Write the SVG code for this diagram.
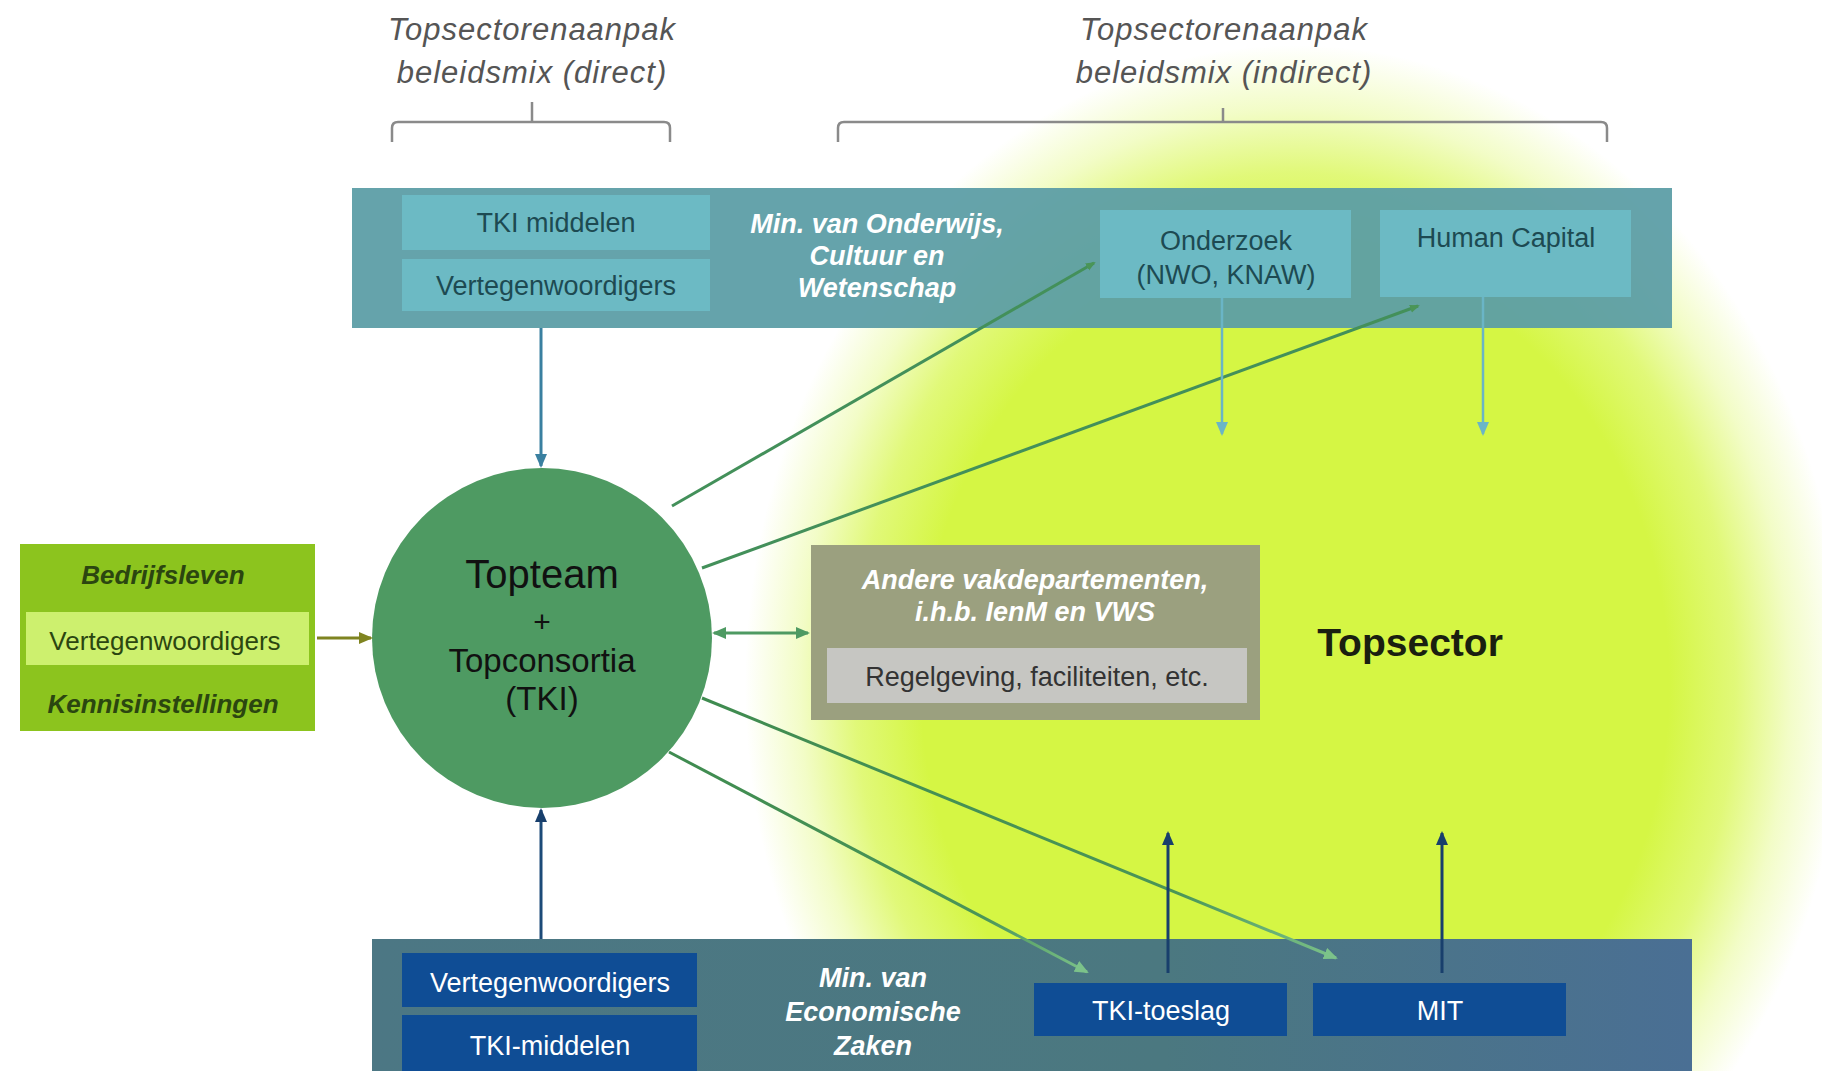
<svg xmlns="http://www.w3.org/2000/svg" width="1822" height="1071" viewBox="0 0 1822 1071">
<defs>
<radialGradient id="glow">
<stop offset="0" stop-color="#d5f644" stop-opacity="1"/>
<stop offset="0.68" stop-color="#d5f644" stop-opacity="1"/>
<stop offset="0.8" stop-color="#d5f644" stop-opacity="0.72"/>
<stop offset="0.9" stop-color="#d5f644" stop-opacity="0.3"/>
<stop offset="1" stop-color="#d5f644" stop-opacity="0"/>
</radialGradient>
<linearGradient id="ezband" x1="0" y1="0" x2="1" y2="0">
<stop offset="0" stop-color="#4c7784"/>
<stop offset="0.6" stop-color="#4b7880"/>
<stop offset="1" stop-color="#4a6f94"/>
</linearGradient>
<linearGradient id="g3" gradientUnits="userSpaceOnUse" x1="702" y1="698" x2="1335" y2="958">
<stop offset="0" stop-color="#3f8b50"/>
<stop offset="0.75" stop-color="#4a9557"/>
<stop offset="1" stop-color="#7cc28a"/>
</linearGradient>
<linearGradient id="g4" gradientUnits="userSpaceOnUse" x1="669" y1="752" x2="1086" y2="972">
<stop offset="0" stop-color="#3f8b50"/>
<stop offset="0.75" stop-color="#4a9557"/>
<stop offset="1" stop-color="#7cc28a"/>
</linearGradient>
<marker id="ahGreen" markerWidth="10" markerHeight="10" refX="8" refY="5" orient="auto" markerUnits="userSpaceOnUse" viewBox="0 0 10 10">
<path d="M0,1 L10,5 L0,9 z" fill="#4a9557"/>
</marker>
<marker id="ahLightGreen" markerWidth="14" markerHeight="12" refX="12" refY="6" orient="auto" markerUnits="userSpaceOnUse" viewBox="0 0 14 12">
<path d="M0,0 L14,6 L0,12 z" fill="#7cc28a"/>
</marker>
<marker id="ahCircle" markerWidth="14" markerHeight="12" refX="12" refY="6" orient="auto-start-reverse" markerUnits="userSpaceOnUse" viewBox="0 0 14 12">
<path d="M0,0 L14,6 L0,12 z" fill="#4e9a62"/>
</marker>
<marker id="ahOlive" markerWidth="14" markerHeight="12" refX="12" refY="6" orient="auto" markerUnits="userSpaceOnUse" viewBox="0 0 14 12">
<path d="M0,0 L14,6 L0,12 z" fill="#7f8420"/>
</marker>
<marker id="ahTeal" markerWidth="14" markerHeight="12" refX="12" refY="6" orient="auto" markerUnits="userSpaceOnUse" viewBox="0 0 14 12">
<path d="M0,0 L14,6 L0,12 z" fill="#3a80a0"/>
</marker>
<marker id="ahLightBlue" markerWidth="14" markerHeight="12" refX="12" refY="6" orient="auto" markerUnits="userSpaceOnUse" viewBox="0 0 14 12">
<path d="M0,0 L14,6 L0,12 z" fill="#6ab5c6"/>
</marker>
<marker id="ahNavy" markerWidth="14" markerHeight="12" refX="12" refY="6" orient="auto" markerUnits="userSpaceOnUse" viewBox="0 0 14 12">
<path d="M0,0 L14,6 L0,12 z" fill="#183f6c"/>
</marker>
</defs>
<style>
text { font-family: "Liberation Sans", Arial, sans-serif; }
.head { font-size: 31px; font-style: italic; fill: #555555; text-anchor: middle; letter-spacing: 1px; }
.brace { fill: none; stroke: #8a8a8a; stroke-width: 2.5; }
.band-ocw { fill: #5b9da6; fill-opacity: 0.94; }
.box-ocw { fill: #6cbac4; }
.t-ocw { font-size: 27px; fill: #1d4a52; text-anchor: middle; }
.t-min { font-size: 27px; font-weight: bold; font-style: italic; fill: #ffffff; text-anchor: middle; }
.box-ez { fill: #0f4d95; }
.t-ez { font-size: 27px; fill: #ffffff; text-anchor: middle; }
.t-circ { fill: #111111; text-anchor: middle; }
.t-left-b { font-size: 26px; font-weight: bold; font-style: italic; fill: #2b4610; text-anchor: middle; }
.t-left { font-size: 26px; fill: #2b4610; text-anchor: middle; }
.ln-green { fill: none; stroke: #43905a; stroke-width: 3; }
</style>
<rect x="0" y="0" width="1822" height="1071" fill="#ffffff"/>
<ellipse id="glow-bg" cx="1295" cy="685" rx="550" ry="640" fill="url(#glow)"/>

<g id="heading-direct">
<text class="head" x="532" y="40">Topsectorenaanpak</text>
<text class="head" x="532" y="83">beleidsmix (direct)</text>
<path class="brace" d="M392,142 L392,128 Q392,122 398,122 L664,122 Q670,122 670,128 L670,142 M532,122 L532,102"/>
</g>
<g id="heading-indirect">
<text class="head" x="1224" y="40">Topsectorenaanpak</text>
<text class="head" x="1224" y="83">beleidsmix (indirect)</text>
<path class="brace" d="M838,142 L838,128 Q838,122 844,122 L1601,122 Q1607,122 1607,128 L1607,142 M1223,122 L1223,108"/>
</g>

<g id="min-ocw">
<rect class="band-ocw" x="352" y="188" width="1320" height="140"/>
<text class="t-min" x="877" y="233">Min. van Onderwijs,</text>
<text class="t-min" x="877" y="265">Cultuur en</text>
<text class="t-min" x="877" y="297">Wetenschap</text>
</g>
<g id="ocw-tki-middelen">
<rect class="box-ocw" x="402" y="195" width="308" height="55"/>
<text class="t-ocw" x="556" y="232">TKI middelen</text>
</g>
<g id="ocw-vertegenwoordigers">
<rect class="box-ocw" x="402" y="259" width="308" height="52"/>
<text class="t-ocw" x="556" y="295">Vertegenwoordigers</text>
</g>
<g id="onderzoek">
<rect class="box-ocw" x="1100" y="210" width="251" height="88"/>
<text class="t-ocw" x="1226" y="250">Onderzoek</text>
<text class="t-ocw" x="1226" y="284">(NWO, KNAW)</text>
</g>
<g id="human-capital">
<rect class="box-ocw" x="1380" y="210" width="251" height="87"/>
<text class="t-ocw" x="1506" y="247">Human Capital</text>
</g>

<g id="min-ez">
<rect x="372" y="939" width="1320" height="132" fill="url(#ezband)"/>
<text class="t-min" x="873" y="987">Min. van</text>
<text class="t-min" x="873" y="1021">Economische</text>
<text class="t-min" x="873" y="1055">Zaken</text>
</g>
<g id="ez-vertegenwoordigers">
<rect class="box-ez" x="402" y="953" width="295" height="54"/>
<text class="t-ez" x="550" y="992">Vertegenwoordigers</text>
</g>
<g id="ez-tki-middelen">
<rect class="box-ez" x="402" y="1015" width="295" height="56"/>
<text class="t-ez" x="550" y="1055">TKI-middelen</text>
</g>
<g id="tki-toeslag">
<rect class="box-ez" x="1034" y="983" width="253" height="53"/>
<text class="t-ez" x="1161" y="1020">TKI-toeslag</text>
</g>
<g id="mit">
<rect class="box-ez" x="1313" y="983" width="253" height="53"/>
<text class="t-ez" x="1440" y="1020">MIT</text>
</g>

<g id="bedrijfsleven-kennisinstellingen">
<rect x="20" y="544" width="295" height="187" fill="#8cc41e"/>
<rect x="26" y="612" width="283" height="53" fill="#cdf06e"/>
<text class="t-left-b" x="163" y="584">Bedrijfsleven</text>
<text class="t-left" x="165" y="650">Vertegenwoordigers</text>
<text class="t-left-b" x="163" y="713">Kennisinstellingen</text>
</g>

<g id="topteam">
<circle cx="542" cy="638" r="170" fill="#4e9a62"/>
<text class="t-circ" x="542" y="588" font-size="40">Topteam</text>
<text class="t-circ" x="542" y="632" font-size="30">+</text>
<text class="t-circ" x="542" y="672" font-size="33">Topconsortia</text>
<text class="t-circ" x="542" y="710" font-size="33">(TKI)</text>
</g>

<g id="andere-vakdepartementen">
<rect x="811" y="545" width="449" height="175" fill="#9ba07f"/>
<rect x="827" y="648" width="420" height="55" fill="#c6c6c2"/>
<text class="t-min" x="1035" y="589">Andere vakdepartementen,</text>
<text class="t-min" x="1035" y="621">i.h.b. IenM en VWS</text>
<text x="1037" y="686" font-size="27" fill="#333333" text-anchor="middle">Regelgeving, faciliteiten, etc.</text>
</g>

<g id="topsector">
<text x="1410" y="656" font-size="39" font-weight="bold" fill="#1a1f10" text-anchor="middle">Topsector</text>
</g>

<g id="connectors">
<line x1="541" y1="328" x2="541" y2="466" stroke="#3a80a0" stroke-width="3" marker-end="url(#ahTeal)"/>
<line x1="541" y1="939" x2="541" y2="810" stroke="#1c4a78" stroke-width="3" marker-end="url(#ahNavy)"/>
<line x1="317" y1="638" x2="371" y2="638" stroke="#7f8420" stroke-width="3" marker-end="url(#ahOlive)"/>
<line x1="714" y1="633" x2="808" y2="633" stroke="#4e9a62" stroke-width="3" marker-start="url(#ahCircle)" marker-end="url(#ahCircle)"/>
<line class="ln-green" x1="672" y1="506" x2="1094" y2="263" marker-end="url(#ahGreen)"/>
<line class="ln-green" x1="702" y1="568" x2="1418" y2="306" marker-end="url(#ahGreen)"/>
<line x1="702" y1="698" x2="1336" y2="958" stroke="url(#g3)" stroke-width="3" marker-end="url(#ahLightGreen)"/>
<line x1="669" y1="752" x2="1087" y2="972" stroke="url(#g4)" stroke-width="3" marker-end="url(#ahLightGreen)"/>
<line x1="1222" y1="298" x2="1222" y2="434" stroke="#6ab5c6" stroke-width="2.5" marker-end="url(#ahLightBlue)"/>
<line x1="1483" y1="297" x2="1483" y2="434" stroke="#6ab5c6" stroke-width="2.5" marker-end="url(#ahLightBlue)"/>
<line x1="1168" y1="973" x2="1168" y2="833" stroke="#183f6c" stroke-width="3" marker-end="url(#ahNavy)"/>
<line x1="1442" y1="973" x2="1442" y2="833" stroke="#183f6c" stroke-width="3" marker-end="url(#ahNavy)"/>
</g>
</svg>
